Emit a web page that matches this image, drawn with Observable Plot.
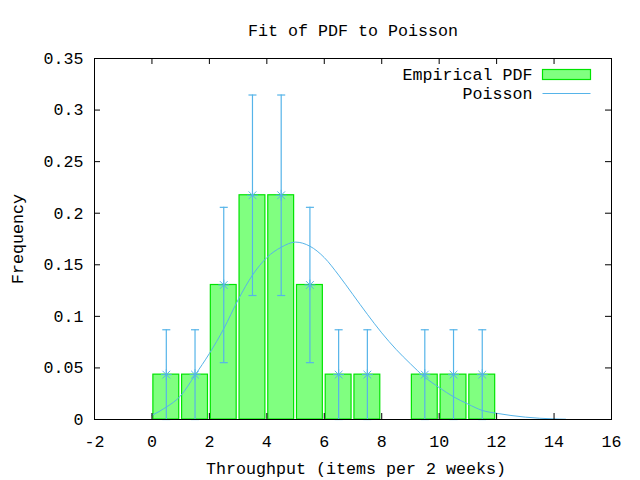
<!DOCTYPE html>
<html><head><meta charset="utf-8">
<script src="https://cdn.jsdelivr.net/npm/d3@7"></script>
<script src="https://cdn.jsdelivr.net/npm/@observablehq/plot@0.6"></script>
<style>html,body{margin:0;padding:0;background:#fff}</style>
</head><body><div id="chart"></div>
<script>
// ---- data ----
const binCenters = [0.5, 1.5, 2.5, 3.5, 4.5, 5.5, 6.5, 7.5, 9.5, 10.5, 11.5];
const frequency  = [0.0435, 0.0435, 0.1304, 0.2174, 0.2174, 0.1304, 0.0435, 0.0435, 0.0435, 0.0435, 0.0435];
const errors     = [0.0435, 0.0435, 0.0753, 0.0972, 0.0972, 0.0753, 0.0435, 0.0435, 0.0435, 0.0435, 0.0435];
const poissonX = [0, 0.5, 1, 1.5, 2, 2.5, 3, 3.5, 4, 4.5, 5, 5.5, 6, 6.5, 7, 7.5, 8, 8.5, 9, 9.5, 10, 10.5, 11, 11.5, 12, 12.5, 13, 13.5, 14, 14.4];
const poissonY = [0.004, 0.012, 0.023, 0.043, 0.064, 0.088, 0.116, 0.140, 0.157, 0.167, 0.172, 0.168, 0.157, 0.140, 0.121, 0.102, 0.084, 0.068, 0.054, 0.041, 0.031, 0.022, 0.015, 0.0088, 0.006, 0.0039, 0.0023, 0.0012, 0.0006, 0.0003];
const xTicks = [-2, 0, 2, 4, 6, 8, 10, 12, 14, 16];
const yTicks = [0, 0.05, 0.1, 0.15, 0.2, 0.25, 0.3, 0.35];
const titleText = "Fit of PDF to Poisson";
const xLabel = "Throughput (items per 2 weeks)";
const yLabel = "Frequency";
const seriesNames = ["Empirical PDF", "Poisson"];

// ---- styles ----
const W = 640, H = 480, mL = 94, mR = 29, mT = 58, mB = 61;
const pw = W - mL - mR, ph = H - mT - mB;
const boxWidth = 0.9, capHalf = 0.14, tick = 6;
const blue = "#56b4e9", fillGreen = "#80ff80", strokeGreen = "#00e400";
const font = "'Liberation Mono', 'DejaVu Sans Mono', monospace";
const fs = 16.67;

const bars = binCenters.map((x, i) => ({x, f: frequency[i], e: errors[i]}));
const curve = poissonX.map((x, i) => ({x, y: poissonY[i]}));

const plot = Plot.plot({
  width: W, height: H,
  marginLeft: mL, marginRight: mR, marginTop: mT, marginBottom: mB,
  style: {fontFamily: font, fontSize: fs + "px", color: "black", background: "white"},
  x: {domain: [-2, 16]},
  y: {domain: [0, 0.35]},
  marks: [
    Plot.rect(bars, {x1: d => d.x - boxWidth / 2, x2: d => d.x + boxWidth / 2, y1: 0, y2: "f",
      fill: fillGreen, stroke: strokeGreen, strokeWidth: 1.2}),
    Plot.line(curve, {x: "x", y: "y", stroke: blue, strokeWidth: 1, curve: "monotone-x"}),
    Plot.ruleX(bars, {x: "x", y1: d => Math.max(0, d.f - d.e), y2: d => d.f + d.e, stroke: blue, strokeWidth: 1.2}),
    Plot.link(bars, {x1: d => d.x - capHalf, x2: d => d.x + capHalf, y1: d => d.f + d.e, y2: d => d.f + d.e, stroke: blue, strokeWidth: 1.2}),
    Plot.link(bars, {x1: d => d.x - capHalf, x2: d => d.x + capHalf, y1: d => Math.max(0, d.f - d.e), y2: d => Math.max(0, d.f - d.e), stroke: blue, strokeWidth: 1.2}),
    Plot.dot(bars, {x: "x", y: "f", symbol: "plus", r: 3.6, stroke: blue, strokeWidth: 1}),
    Plot.dot(bars, {x: "x", y: "f", symbol: "times", r: 3.6, stroke: blue, strokeWidth: 1}),
    Plot.frame({stroke: "black", strokeWidth: 1}),
    Plot.tickX(xTicks, {x: d => d, insetTop: ph - tick, stroke: "black"}),
    Plot.tickX(xTicks, {x: d => d, insetBottom: ph - tick, stroke: "black"}),
    Plot.tickY(yTicks, {y: d => d, insetRight: pw - tick, stroke: "black"}),
    Plot.tickY(yTicks, {y: d => d, insetLeft: pw - tick, stroke: "black"}),
    Plot.axisX(xTicks, {tickSize: 0, tickPadding: 16, label: null, tickFormat: d => String(d)}),
    Plot.axisY(yTicks, {tickSize: 0, tickPadding: 11, label: null, tickFormat: d => String(d)}),
    Plot.text([titleText], {frameAnchor: "top", dy: -28, lineAnchor: "middle", fontSize: fs}),
    Plot.text([xLabel], {frameAnchor: "bottom", dx: 3, dy: 49, lineAnchor: "middle", fontSize: fs}),
    Plot.text([yLabel], {frameAnchor: "left", dx: -77, rotate: -90, textAnchor: "middle", lineAnchor: "middle", fontSize: fs}),
    Plot.text([seriesNames[0]], {frameAnchor: "top-right", dx: -79, dy: 16.5, textAnchor: "end", lineAnchor: "middle", fontSize: fs}),
    Plot.text([seriesNames[1]], {frameAnchor: "top-right", dx: -79, dy: 35.5, textAnchor: "end", lineAnchor: "middle", fontSize: fs})
  ]
});
document.getElementById("chart").appendChild(plot);

// legend keys
const svg = d3.select(plot.tagName.toLowerCase() === "svg" ? plot : plot.querySelector("svg"));
svg.append("rect").attr("x", 542.5).attr("y", 69.5).attr("width", 48).attr("height", 10)
  .attr("fill", fillGreen).attr("stroke", strokeGreen).attr("stroke-width", 1.2);
svg.append("line").attr("x1", 542.5).attr("x2", 590.5).attr("y1", 93.5).attr("y2", 93.5)
  .attr("stroke", blue).attr("stroke-width", 1);
</script>
</body></html>
